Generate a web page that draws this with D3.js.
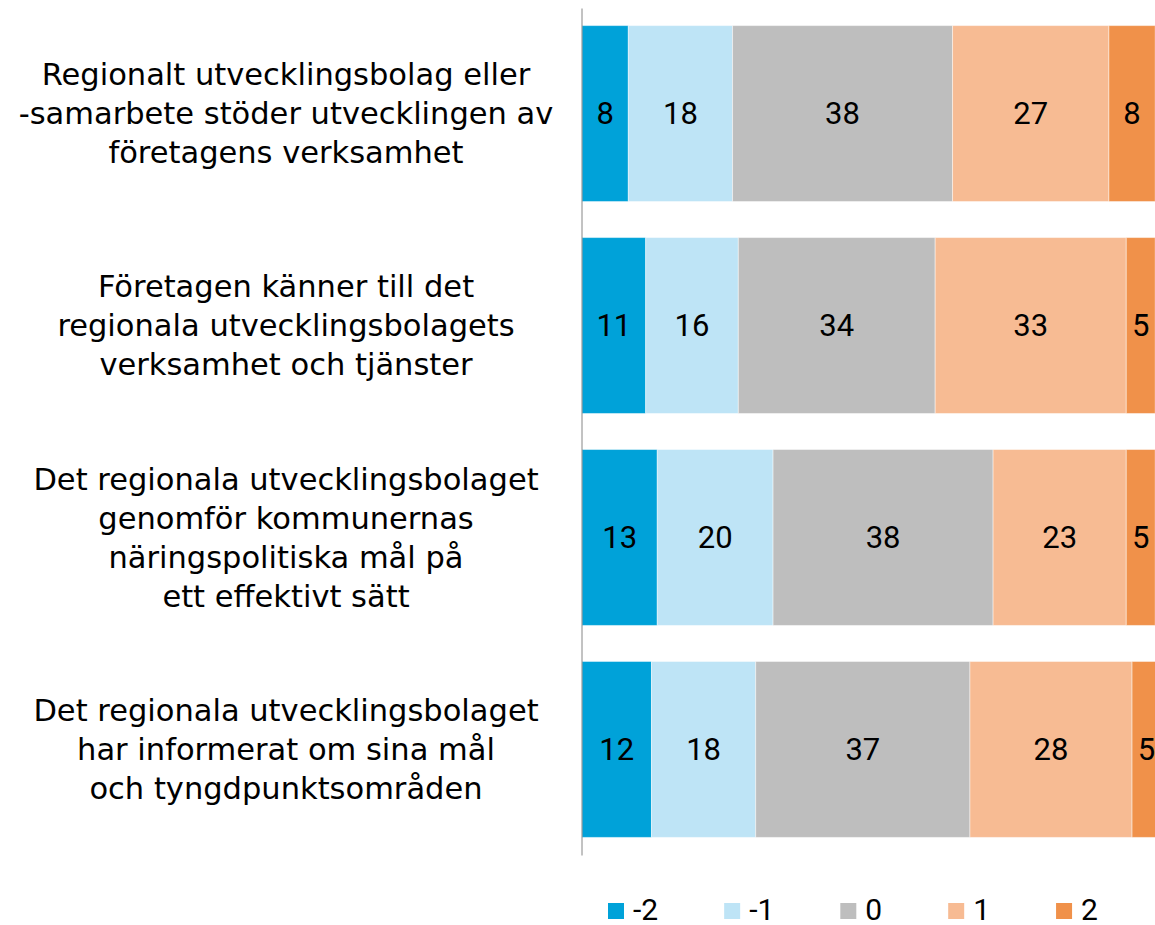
<!DOCTYPE html>
<html>
<head>
<meta charset="utf-8">
<script src="https://cdn.jsdelivr.net/npm/d3@7"></script>
<style>
  body { margin: 0; background: #fff; }
  svg { display: block; }
</style>
</head>
<body>
<div id="chart"></div>
<script>
const categories = [
  ['Regionalt utvecklingsbolag eller', '-samarbete stöder utvecklingen av', 'företagens verksamhet'],
  ['Företagen känner till det', 'regionala utvecklingsbolagets', 'verksamhet och tjänster'],
  ['Det regionala utvecklingsbolaget', 'genomför kommunernas', 'näringspolitiska mål på', 'ett effektivt sätt'],
  ['Det regionala utvecklingsbolaget', 'har informerat om sina mål', 'och tyngdpunktsområden']
];
const seriesNames = ['-2', '-1', '0', '1', '2'];
const valuesM2 = [8, 11, 13, 12];
const valuesM1 = [18, 16, 20, 18];
const values0 = [38, 34, 38, 37];
const values1 = [27, 33, 23, 28];
const values2 = [8, 5, 5, 5];
const colors = ['#00a2d9', '#bee4f6', '#bebebe', '#f7bb93', '#f0914a'];

const WIDTH = 1155, HEIGHT = 925;
const PLOT = {LEFT: 582, RIGHT: 1161, TOP: 8, BOTTOM: 855};

const svg = d3.select('#chart').append('svg')
  .attr('width', WIDTH)
  .attr('height', HEIGHT);

const allSeries = [valuesM2, valuesM1, values0, values1, values2];
const rows = categories.map((c, i) => {
  let acc = 0;
  return allSeries.map((s, k) => {
    const seg = {row: i, key: k, v: s[i], x0: acc, x1: acc + s[i]};
    acc += s[i];
    return seg;
  });
});

const x = d3.scaleLinear().domain([0, 100]).range([PLOT.LEFT, PLOT.RIGHT]);
const y = d3.scaleBand()
  .domain(d3.range(categories.length))
  .range([PLOT.TOP, PLOT.BOTTOM])
  .paddingInner(0.17)
  .paddingOuter(0.083);

const segs = rows.flat();

svg.append('g').selectAll('rect')
  .data(segs)
  .enter().append('rect')
    .attr('x', d => x(d.x0))
    .attr('y', d => y(d.row))
    .attr('width', d => x(d.x1) - x(d.x0))
    .attr('height', y.bandwidth())
    .attr('fill', d => colors[d.key])
    .attr('stroke', 'rgba(255,255,255,0.45)')
    .attr('stroke-width', 1);

svg.append('g').selectAll('text')
  .data(segs)
  .enter().append('text')
    .attr('x', d => x((d.x0 + d.x1) / 2))
    .attr('y', d => y(d.row) + y.bandwidth() / 2)
    .attr('dy', '0.35em')
    .attr('text-anchor', 'middle')
    .attr('font-family', 'Roboto, sans-serif')
    .attr('font-size', '31px')
    .attr('fill', '#000')
    .text(d => d.v);

// axis line
svg.append('g')
  .attr('transform', `translate(${PLOT.LEFT - 0.5}, 0)`)
  .call(d3.axisLeft(y).tickSize(0).tickSizeOuter(0).tickFormat(''))
  .call(g => g.select('.domain').attr('stroke', '#868686'));

// category labels
const LINE_H = 39;
const labels = svg.append('g')
  .attr('font-family', '"DejaVu Sans", sans-serif')
  .attr('font-size', '30.5px')
  .attr('fill', '#000')
  .attr('text-anchor', 'middle');

categories.forEach((lines, i) => {
  const cy = y(i) + y.bandwidth() / 2;
  const t = labels.append('text')
    .attr('y', cy - (lines.length - 1) * LINE_H / 2);
  lines.forEach((ln, j) => {
    t.append('tspan')
      .attr('x', 286)
      .attr('dy', j === 0 ? '0.35em' : LINE_H)
      .text(ln);
  });
});

// legend
const legend = svg.append('g')
  .attr('font-family', 'Roboto, sans-serif')
  .attr('font-size', '30px');
let lx = 608;
seriesNames.forEach((name, k) => {
  const g = legend.append('g').attr('transform', `translate(${lx}, 909)`);
  g.append('rect')
    .attr('x', 0).attr('y', -6)
    .attr('width', 16).attr('height', 16)
    .attr('fill', colors[k]);
  const txt = g.append('text')
    .attr('x', 25)
    .attr('dy', '0.35em')
    .text(name);
  lx += 25 + txt.node().getComputedTextLength() + 66;
});
</script>
</body>
</html>
